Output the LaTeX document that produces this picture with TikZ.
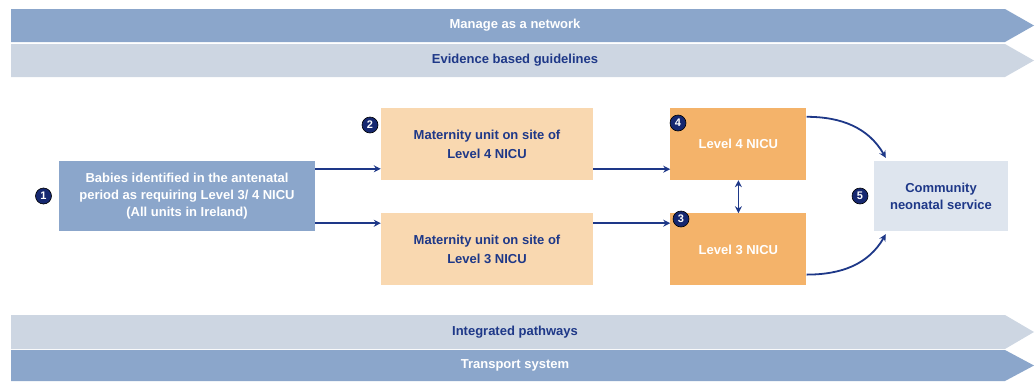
\documentclass[tikz,border=0pt]{standalone}
\usepackage{fontspec}
\setmainfont{Liberation Sans}
\usetikzlibrary{positioning,arrows.meta}

\definecolor{navy}{RGB}{30,56,136}
\definecolor{dotnavy}{RGB}{22,40,112}
\definecolor{banddark}{RGB}{139,166,203}
\definecolor{bandlight}{RGB}{205,214,226}
\definecolor{peach}{RGB}{249,216,176}
\definecolor{nicuorange}{RGB}{244,179,106}
\definecolor{commfill}{RGB}{222,229,238}

\begin{document}
\begin{tikzpicture}[x=1pt,y=-1pt,
	box/.style={rectangle, inner sep=0pt, align=center, font=\fontsize{13}{17}\selectfont\bfseries},
	babybox/.style={box, fill=banddark, text=white, minimum width=256pt, minimum height=70pt},
	matbox/.style={box, fill=peach, text=navy, minimum width=212pt, minimum height=72pt, font=\fontsize{13}{19}\selectfont\bfseries},
	nicubox/.style={box, fill=nicuorange, text=white, minimum width=136pt, minimum height=72pt},
	commbox/.style={box, fill=commfill, text=navy, minimum width=134pt, minimum height=70pt},
	num/.style={circle, fill=dotnavy, draw=black, line width=0.6pt, text=white, inner sep=0pt, minimum size=16pt, font=\fontsize{11}{11}\selectfont\bfseries},
	bandtext/.style={inner sep=0pt, font=\fontsize{13}{13}\selectfont\bfseries},
	link/.style={draw=navy, line width=1.8pt, -{Stealth[length=7pt,width=7pt]}},
	bilink/.style={link, {Stealth[length=7pt,width=7pt]}-{Stealth[length=7pt,width=7pt]}}
	]
			
			\useasboundingbox (0,0) rectangle (1036,381);
			
			\foreach \ya/\yb/\col/\txt/\tcol [count=\i] in {9/42/banddark/Manage as a network/white, 44/77/bandlight/Evidence based guidelines/navy, 315/349/bandlight/Integrated pathways/navy, 350/381/banddark/Transport system/white}{
				\fill[\col] (11,\ya) -- (1005,\ya) -- (1034,{(\ya+\yb)/2}) -- (1005,\yb) -- (11,\yb) -- cycle;
				\node[bandtext, text=\tcol](band\i) at (515,{(\ya+\yb)/2}){\txt};
			}
			
			\node[babybox](babies) at (187,196){Babies identified in the antenatal\\period as requiring Level 3/ 4 NICU\\(All units in Ireland)};
			\node[matbox](mat4) at (487,144){Maternity unit on site of\\Level 4 NICU};
			\node[matbox, below=33pt of mat4](mat3){Maternity unit on site of\\Level 3 NICU};
			\node[nicubox, right=77pt of mat4](nicu4){Level 4 NICU};
			\node[nicubox, below=33pt of nicu4](nicu3){Level 3 NICU};
			\node[commbox](comm) at (941,196){Community\\neonatal service};
			
			\node[num, left=7pt of babies](n1){1};
			\node[num](n2) at (370,125){2};
			\node[num](n4) at (678,123){4};
			\node[num](n3) at (681,219){3};
			\node[num](n5) at (860,196){5};
			
			\draw[link] ([yshift=-8pt]babies.north east) -- ([yshift=-8pt]babies.north east -| mat4.west);
			\draw[link] ([yshift=8pt]babies.south east) -- ([yshift=8pt]babies.south east -| mat3.west);
			\draw[link] ([yshift=11pt]mat4.south east) -- ([yshift=11pt]mat4.south east -| nicu4.west);
			\draw[link] ([yshift=-10pt]mat3.north east) -- ([yshift=-10pt]mat3.north east -| nicu3.west);
			\draw[bilink] (nicu4.south) -- (nicu3.north);
			\draw[link] ([yshift=-9pt]nicu4.north east) to[out=0, in=120] ([xshift=12pt, yshift=3pt]comm.north west);
			\draw[link] ([yshift=11pt]nicu3.south east) to[out=0, in=-120] ([xshift=12pt, yshift=-3pt]comm.south west);
			
		\end{tikzpicture}
\end{document}
